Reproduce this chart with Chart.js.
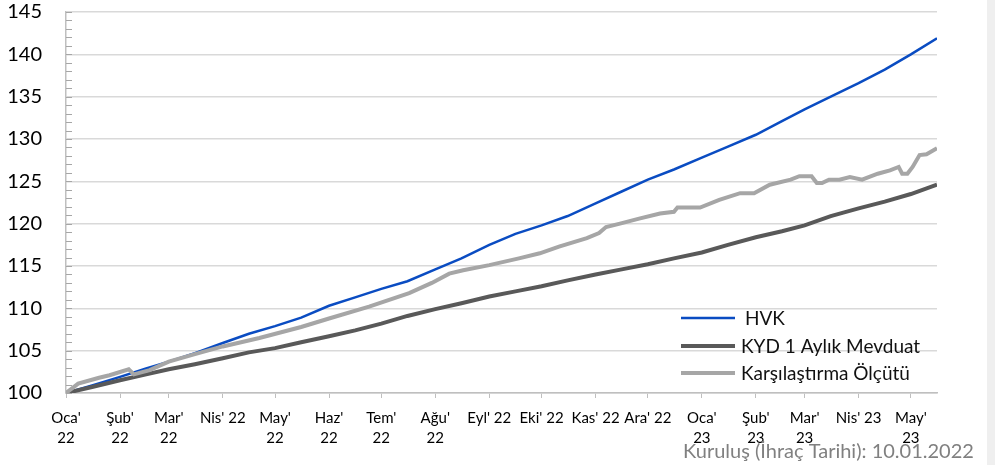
<!DOCTYPE html>
<html>
<head>
<meta charset="utf-8">
<script src="https://cdn.jsdelivr.net/npm/chart.js@4.4.0/dist/chart.umd.min.js"></script>
<style>
    html, body { margin: 0; padding: 0; background: #efefef; }
    #wrap { width: 987px; height: 465px; background: #fff; }
</style>
</head>
<body>
<div id="wrap"><canvas id="lineChart" width="987" height="465"></canvas></div>
<script>
// semi-monthly read-offs for HVK and KYD
const seriesDates = ['2022-01-10', '2022-01-25', '2022-02-10', '2022-02-25', '2022-03-10', '2022-03-25',
    '2022-04-10', '2022-04-25', '2022-05-10', '2022-05-25', '2022-06-10', '2022-06-25', '2022-07-10',
    '2022-07-25', '2022-08-10', '2022-08-25', '2022-09-10', '2022-09-25', '2022-10-10', '2022-10-25',
    '2022-11-10', '2022-11-25', '2022-12-10', '2022-12-25', '2023-01-10', '2023-01-25', '2023-02-10',
    '2023-02-25', '2023-03-10', '2023-03-25', '2023-04-10', '2023-04-25', '2023-05-10', '2023-05-25'];
const hvk = [100.0, 100.9, 101.9, 102.9, 103.7, 104.7, 105.9, 107.0, 107.9, 108.9, 110.3, 111.3, 112.3,
    113.2, 114.6, 115.9, 117.5, 118.8, 119.8, 120.9, 122.4, 123.8, 125.2, 126.4, 127.8, 129.1, 130.5,
    132.1, 133.5, 135.0, 136.6, 138.2, 140.0, 141.9];
const kyd = [100.0, 100.7, 101.5, 102.2, 102.8, 103.4, 104.1, 104.8, 105.3, 106.0, 106.7, 107.4, 108.2,
    109.1, 109.9, 110.6, 111.4, 112.0, 112.6, 113.3, 114.0, 114.6, 115.2, 115.9, 116.6, 117.5, 118.4,
    119.1, 119.8, 120.9, 121.8, 122.6, 123.5, 124.6];

// benchmark has more wiggles, so its own dates
const benchDates = ['2022-01-10', '2022-01-17', '2022-01-29', '2022-02-04', '2022-02-15', '2022-02-18',
    '2022-02-27', '2022-03-10', '2022-03-25', '2022-04-10', '2022-05-01', '2022-05-25', '2022-06-10',
    '2022-07-03', '2022-07-26', '2022-08-08', '2022-08-18', '2022-08-26', '2022-09-10', '2022-09-27',
    '2022-10-09', '2022-10-20', '2022-11-05', '2022-11-12', '2022-11-16', '2022-11-24', '2022-12-05',
    '2022-12-17', '2022-12-25', '2022-12-27', '2023-01-09', '2023-01-20', '2023-02-01', '2023-02-09',
    '2023-02-18', '2023-03-02', '2023-03-07', '2023-03-14', '2023-03-17', '2023-03-20', '2023-03-24',
    '2023-03-30', '2023-04-05', '2023-04-12', '2023-04-21', '2023-04-28', '2023-05-03', '2023-05-05',
    '2023-05-08', '2023-05-11', '2023-05-15', '2023-05-19', '2023-05-25'];
const bench = [100.0, 101.1, 101.8, 102.1, 102.8, 102.2, 102.7, 103.7, 104.6, 105.5, 106.5, 107.8, 108.8,
    110.2, 111.8, 113.0, 114.1, 114.5, 115.1, 115.9, 116.5, 117.3, 118.3, 118.9, 119.6, 120.0, 120.6,
    121.2, 121.4, 121.9, 121.9, 122.8, 123.6, 123.6, 124.6, 125.2, 125.6, 125.6, 124.8, 124.8, 125.2,
    125.2, 125.5, 125.2, 125.9, 126.3, 126.7, 125.9, 125.9, 126.7, 128.1, 128.2, 128.9];

const tickDates = ['2022-01-10', '2022-02-10', '2022-03-10', '2022-04-10', '2022-05-10', '2022-06-10',
    '2022-07-10', '2022-08-10', '2022-09-10', '2022-10-10', '2022-11-10', '2022-12-10', '2023-01-10',
    '2023-02-10', '2023-03-10', '2023-04-10', '2023-05-10'];
const tickLabels = [["Oca'", '22'], ["Şub'", '22'], ["Mar'", '22'], "Nis' 22", ["May'", '22'], ["Haz'", '22'],
    ["Tem'", '22'], ["Ağu'", '22'], "Eyl' 22", "Eki' 22", "Kas' 22", "Ara' 22", ["Oca'", '23'],
    ["Şub'", '23'], ["Mar'", '23'], "Nis' 23", ["May'", '23']];

const seriesNames = ['HVK', 'KYD 1 Aylık Mevduat', 'Karşılaştırma Ölçütü'];
const noteText = 'Kuruluş (İhraç Tarihi): 10.01.2022';

const FONT = 'Lato';
const start = Date.UTC(2022, 0, 10);
function dayOf(s) {
    const [y, m, d] = s.split('-').map(Number);
    return (Date.UTC(y, m - 1, d) - start) / 86400000;
}
function pts(dates, vals) {
    return dates.map((d, i) => ({ x: dayOf(d), y: vals[i] }));
}
const tickDays = tickDates.map(dayOf);

// minor ticks inside the y axis, legend box and footnote
const extras = {
    id: 'extras',
    afterDraw(chart) {
        const ctx = chart.ctx;
        const ys = chart.scales.y;
        const left = chart.chartArea.left;
        ctx.save();
        ctx.strokeStyle = '#a6a6a6';
        ctx.lineWidth = 1;
        for (let v = 100; v <= 145; v++) {
            const py = Math.round(ys.getPixelForValue(v)) + 0.5;
            ctx.beginPath();
            ctx.moveTo(left, py);
            ctx.lineTo(left + 6, py);
            ctx.stroke();
        }

        const rows = [318, 346, 373];
        ctx.font = '19px ' + FONT;
        ctx.textBaseline = 'middle';
        ctx.fillStyle = '#111';
        chart.data.datasets.forEach((ds, i) => {
            ctx.strokeStyle = ds.borderColor;
            ctx.lineWidth = ds.borderWidth;
            ctx.beginPath();
            ctx.moveTo(681, rows[i]);
            ctx.lineTo(735, rows[i]);
            ctx.stroke();
            ctx.fillText(ds.label, i === 0 ? 745 : 741, rows[i] + 1);
        });

        ctx.font = '20px ' + FONT;
        ctx.fillStyle = '#808080';
        ctx.textBaseline = 'alphabetic';
        ctx.fillText(noteText, 683, 458);
        ctx.restore();
    }
};

const lineCtx = document.getElementById('lineChart');
const myChart = new Chart(lineCtx, {
    type: 'line',
    data: {
        datasets: [{
            label: seriesNames[0],
            data: pts(seriesDates, hvk),
            borderColor: '#0a4cc2',
            borderWidth: 2.5,
            order: 2
        }, {
            label: seriesNames[1],
            data: pts(seriesDates, kyd),
            borderColor: '#595959',
            borderWidth: 4,
            order: 1
        }, {
            label: seriesNames[2],
            data: pts(benchDates, bench),
            borderColor: '#a6a6a6',
            borderWidth: 4,
            order: 0
        }]
    },
    options: {
        responsive: false,
        animation: false,
        elements: { point: { radius: 0 }, line: { tension: 0 } },
        layout: { padding: { top: 12, right: 50, left: 0, bottom: 0 } },
        plugins: {
            legend: { display: false },
            tooltip: { enabled: false }
        },
        scales: {
            x: {
                type: 'linear',
                min: 0,
                max: 500,
                afterBuildTicks: s => { s.ticks = tickDays.map(v => ({ value: v })); },
                afterFit: s => { s.height = 72; s.paddingTop = 0; s.paddingBottom = 0; },
                ticks: {
                    autoSkip: false,
                    maxRotation: 0,
                    minRotation: 0,
                    padding: 10,
                    color: '#000',
                    font: { family: FONT, size: 15, lineHeight: 1.33 },
                    callback: (v, i) => tickLabels[i]
                },
                grid: { drawOnChartArea: false, tickLength: 5, tickColor: '#bfbfbf' },
                border: { color: '#bfbfbf', width: 1.5 }
            },
            y: {
                min: 100,
                max: 145,
                afterFit: s => { s.width = 66; s.paddingTop = 0; s.paddingBottom = 0; },
                ticks: {
                    stepSize: 5,
                    padding: 24,
                    color: '#000',
                    font: { family: FONT, size: 20 }
                },
                grid: { color: '#d9d9d9', lineWidth: 1.5, drawTicks: false },
                border: { color: '#bfbfbf', width: 1.5 }
            }
        }
    },
    plugins: [extras]
});
</script>
</body>
</html>
